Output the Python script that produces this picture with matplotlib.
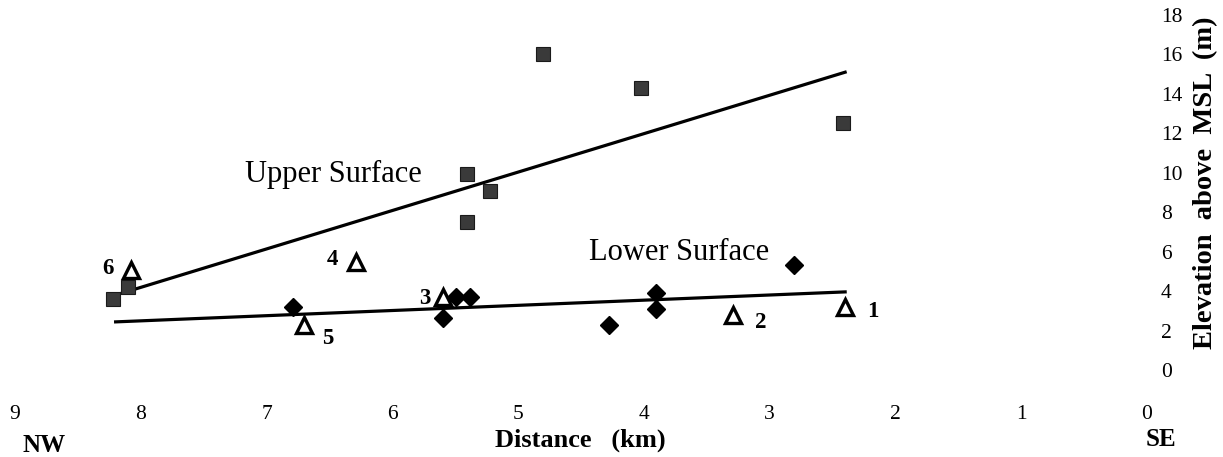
import numpy as np
import matplotlib
matplotlib.use("Agg")
import matplotlib.pyplot as plt

plt.rcParams['font.family'] = ['Liberation Serif', 'DejaVu Serif']

# upper surface points (squares)
upper_x = [8.22, 8.10, 5.41, 5.22, 5.41, 4.80, 4.02, 2.42]
upper_y = [3.6, 4.2, 9.95, 9.1, 7.5, 16.0, 14.3, 12.5]

# lower surface points (diamonds)
lower_x = [6.79, 5.49, 5.38, 5.60, 4.28, 3.90, 3.90, 2.81]
lower_y = [3.2, 3.7, 3.7, 2.64, 2.28, 3.9, 3.1, 5.33]

# numbered sites (open triangles)
site_ids = ['1', '2', '3', '4', '5', '6']
site_x = [2.40, 3.29, 5.60, 6.29, 6.70, 8.08]
site_y = [3.2, 2.8, 3.7, 5.5, 2.28, 5.08]

# trend lines (end points)
upper_line_x = [8.2, 2.4]
upper_line_y = [3.8, 15.1]
lower_line_x = [8.2, 2.4]
lower_line_y = [2.44, 3.96]

x_ticks = [9, 8, 7, 6, 5, 4, 3, 2, 1, 0]
y_ticks = [0, 2, 4, 6, 8, 10, 12, 14, 16, 18]

fig = plt.figure(figsize=(12.23, 4.57), dpi=100)
ax = fig.add_axes([15 / 1223, 87 / 457, 1132 / 1223, 355 / 457])

ax.plot(upper_line_x, upper_line_y, color='black', lw=2.3, zorder=2)
ax.plot(lower_line_x, lower_line_y, color='black', lw=2.3, zorder=2)

ax.plot(upper_x, upper_y, 's', ms=10, mfc='#3a3a3a', mec='#1a1a1a', mew=0.8, zorder=3)
ax.plot(lower_x, lower_y, 'D', ms=9.5, mfc='black', mec='black', zorder=3)
ax.plot(site_x, site_y, '^', ms=11, mfc='white', mec='black', mew=2.4, zorder=4)

# offsets of the site numbers (points)
offsets = {'1': (20, -3.6), '2': (19.5, -5.8), '3': (-13, -0.7),
           '4': (-17, 1.5), '5': (17, -9.4), '6': (-16.5, 0.7)}
for sid, sx, sy in zip(site_ids, site_x, site_y):
    ax.annotate(sid, (sx, sy), xytext=offsets[sid], textcoords='offset points',
                ha='center', va='center', fontsize=16.5, fontweight='bold')

ax.text(6.47, 9.9, 'Upper Surface', ha='center', va='center', fontsize=22)
ax.text(3.72, 5.94, 'Lower Surface', ha='center', va='center', fontsize=22)

ax.set_xlim(9, 0)
ax.set_ylim(0, 18)
ax.set_xticks(x_ticks)
ax.set_yticks(y_ticks)
ax.yaxis.tick_right()
ax.tick_params(axis='both', length=0, labelsize=15.5)
ax.tick_params(axis='x', pad=25)
ax.tick_params(axis='y', pad=10)
for s in ax.spines.values():
    s.set_visible(False)

fig.text(580 / 1223, (457 - 440) / 457, 'Distance   (km)', ha='center', va='center',
         fontsize=19, fontweight='bold')
fig.text(1206 / 1223, (457 - 183) / 457, 'Elevation  above  MSL  (m)', rotation=90,
         ha='center', va='center', fontsize=20.5, fontweight='bold')
fig.text(44 / 1223, (457 - 445) / 457, 'NW', ha='center', va='center',
         fontsize=18, fontweight='bold')
fig.text(1161 / 1223, (457 - 440) / 457, 'SE', ha='center', va='center',
         fontsize=18, fontweight='bold')

fig.savefig('out.png', dpi=100)
